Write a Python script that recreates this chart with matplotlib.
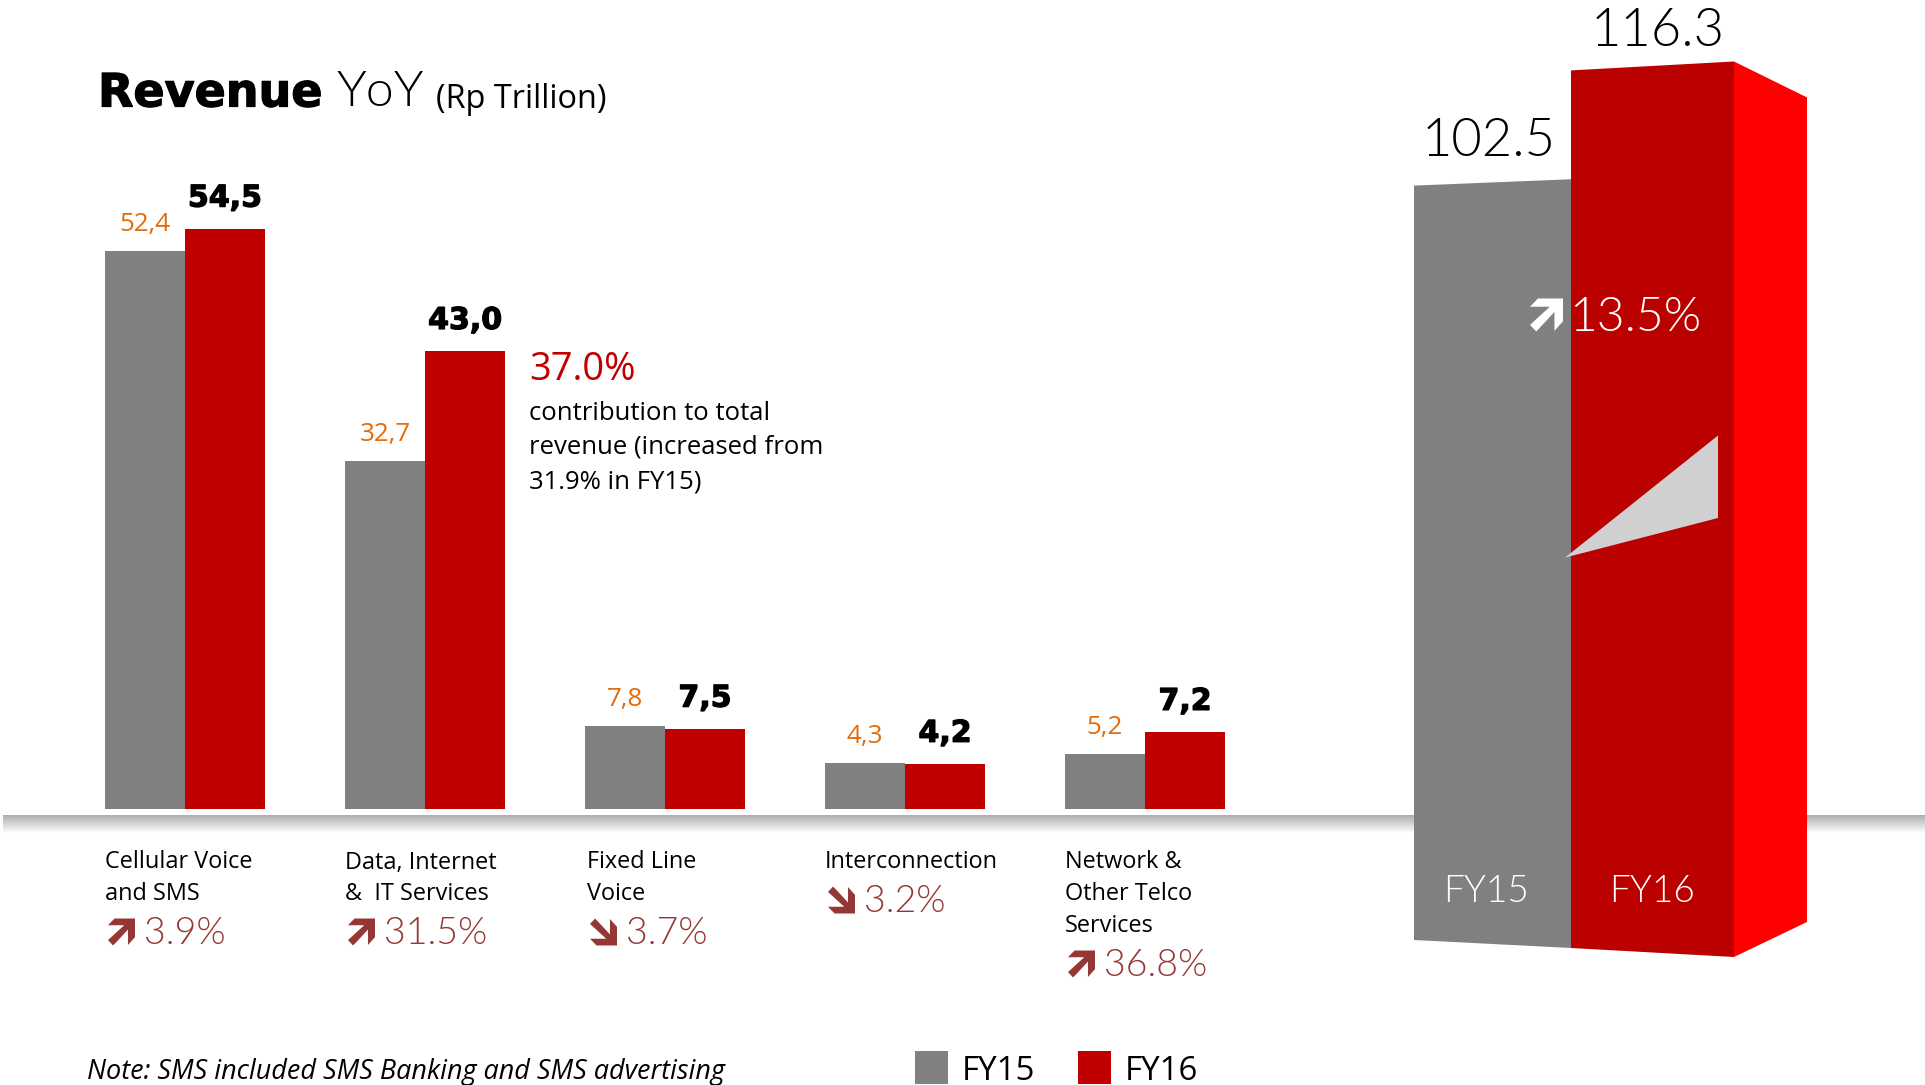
import numpy as np
import matplotlib
matplotlib.use("Agg")
import matplotlib.pyplot as plt
import matplotlib.patheffects as pe
from matplotlib.patches import Polygon, Rectangle

# ---- data ----
categories = [["Cellular Voice", "and SMS"], ["Data, Internet", "&  IT Services"],
              ["Fixed Line", "Voice"], ["Interconnection"],
              ["Network &", "Other Telco", "Services"]]
fy15 = [52.4, 32.7, 7.8, 4.3, 5.2]
fy16 = [54.5, 43.0, 7.5, 4.2, 7.2]
growth = ["3.9%", "31.5%", "3.7%", "3.2%", "36.8%"]
growth_up = [True, True, False, False, True]
total_fy15 = 102.5
total_fy16 = 116.3
total_growth = "13.5%"
callout = ["contribution to total", "revenue (increased from", "31.9% in FY15)"]
callout_head = "37.0%"
note = "Note: SMS included SMS Banking and SMS advertising"

GRAY = "#808080"; RED = "#C00000"; SIDE = "#FF0000"; DARK = "#BB0000"
ORANGE = "#E36C09"; GROW = "#953735"
W, H = 1925, 1085
BODY = "Open Sans"; THIN = "Lato"; LW = 300

fig = plt.figure(figsize=(W / 100, H / 100), dpi=100, facecolor="white")
pt = lambda px: px * 0.72
heavy = [pe.withStroke(linewidth=0.9, foreground="black")]

# pixel-space overlay
ov = fig.add_axes([0, 0, 1, 1]); ov.axis("off")
grad = np.linspace(0.68, 1.0, 64).reshape(-1, 1)
ov.imshow(grad, cmap="gray", vmin=0, vmax=1, extent=[3, W, 833, 815], aspect="auto", zorder=1)
ov.set_xlim(0, W); ov.set_ylim(H, 0)

# left grouped bars
PX_Y = 10.64
ax = fig.add_axes([65 / W, (H - 809) / H, 1200 / W, 620 / H], facecolor="none")
ax.set_xlim(-0.5, 4.5); ax.set_ylim(0, 620 / PX_Y); ax.axis("off")
x = np.arange(len(fy15)); w = 1 / 3
ax.bar(x - w / 2, fy15, w, color=GRAY, linewidth=0)
ax.bar(x + w / 2, fy16, w, color=RED, linewidth=0)
for xi, a, b in zip(x, fy15, fy16):
    ax.annotate(f"{a:.1f}".replace(".", ","), (xi - w / 2, a), xytext=(0, pt(26.5)), textcoords="offset points",
                ha="center", va="center", color=ORANGE, family=BODY, fontsize=pt(26))
    ax.annotate(f"{b:.1f}".replace(".", ","), (xi + w / 2, b), xytext=(0, pt(31)), textcoords="offset points",
                ha="center", va="center", color="black", family="DejaVu Sans", weight="bold", fontsize=pt(30),
                path_effects=heavy)

ARROW = np.array([(1, 1), (1, .31), (.74, .02), (.74, .59), (.19, 0), (0, .2), (.6, .75), (0, .75), (.24, 1)])
def arrow(x0, yc, size, up, color):
    p = ARROW.copy()
    if not up:
        p[:, 1] = 1 - p[:, 1]
    ov.add_patch(Polygon(np.c_[x0 + p[:, 0] * size, yc + size / 2 - p[:, 1] * size], closed=True,
                         fc=color, ec="none", zorder=5))

# category labels and growth rates
for i, (lines, g, up) in enumerate(zip(categories, growth, growth_up)):
    x0 = 105 + 240 * i + (2 if i == 2 else 0)
    for j, s in enumerate(lines):
        ov.text(x0, 862.5 + 32 * j, s, family=BODY, fontsize=pt(23.5), va="center", ha="left", color="black", zorder=6)
    yg = 860 + 32 * len(lines) + 8
    arrow(x0 + 3, yg, 27, up, GROW)
    ov.text(x0 + 39, yg + 2, g, family=THIN, weight=LW, fontsize=pt(37.5), color=GROW, va="center", ha="left", zorder=6)

# titles
ov.text(98, 94, "Revenue", family="DejaVu Sans", weight="bold", fontsize=pt(46), va="center", ha="left", path_effects=heavy)
ov.text(336, 93, "YoY", family=THIN, weight=LW, fontsize=pt(50), va="center", ha="left")
ov.text(436, 99, "(Rp Trillion)", family=BODY, fontsize=pt(32.5), va="center", ha="left")

# callout
ov.text(529, 370, callout_head, family=BODY, fontsize=pt(38), color=RED, va="center", ha="left")
for j, s in enumerate(callout):
    ov.text(529, 413 + 34.5 * j, s, family=BODY, fontsize=pt(25.7), va="center", ha="left")

# note and legend
ov.text(87, 1072, note, family=BODY, style="italic", fontsize=pt(27), va="center", ha="left")
for x0, c, s in [(915, GRAY, "FY15"), (1078, RED, "FY16")]:
    ov.add_patch(Rectangle((x0, 1051), 33, 33, fc=c, ec="none"))
    ov.text(x0 + 47, 1071, s, family=BODY, fontsize=pt(33), va="center", ha="left")

# 3D total bars: height of each corner = value * perspective factor
def face(xs, base, factor, val_l, val_r, color):
    pts = [(xs[0], base[0]), (xs[1], base[1]), (xs[1], base[1] - val_r * factor[1]), (xs[0], base[0] - val_l * factor[0])]
    ov.add_patch(Polygon(pts, closed=True, fc=color, ec="none", zorder=3))
face((1414, 1571), (940, 948), (7.36, 7.50), total_fy15, total_fy15, GRAY)
face((1571, 1734), (948, 957), (7.546, 7.70), total_fy16, total_fy16, DARK)
face((1734, 1807), (957, 922), (7.70, 7.09), total_fy16, total_fy16, SIDE)
ov.add_patch(Polygon([(1565, 557.6), (1718, 435.5), (1718, 518)], closed=True, fc="#D0D0D0", ec="none", zorder=4))

ov.text(1489, 141, f"{total_fy15}", family=THIN, weight=LW, fontsize=pt(52.5), va="center", ha="center", zorder=6)
ov.text(1658, 32, f"{total_fy16}", family=THIN, weight=LW, fontsize=pt(52.5), va="center", ha="center", zorder=6)
arrow(1530, 315, 33, True, "white")
ov.text(1569, 318, total_growth, family=THIN, weight=LW, fontsize=pt(48), color="white", va="center", ha="left", zorder=6)
ov.text(1486, 892, "FY15", family=THIN, weight=LW, fontsize=pt(37), color="white", va="center", ha="center", zorder=6)
ov.text(1652, 892, "FY16", family=THIN, weight=LW, fontsize=pt(37), color="white", va="center", ha="center", zorder=6)

fig.savefig("out.png", dpi=100, facecolor="white")
